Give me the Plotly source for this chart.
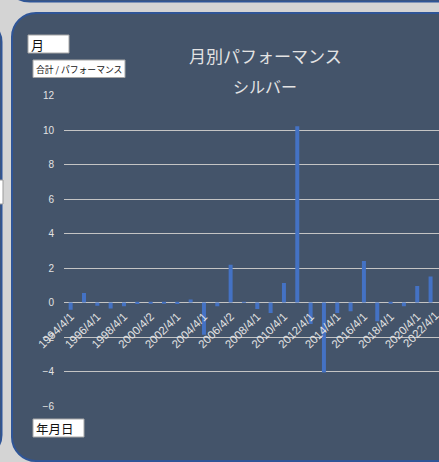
import plotly.graph_objects as go

W, H = 439, 462

# ---- data ----
dates = ["1994/4/1", "1995/4/1", "1996/4/1", "1997/4/1", "1998/4/1", "1999/4/1",
         "2000/4/2", "2001/4/1", "2002/4/1", "2003/4/1", "2004/4/1", "2005/4/1",
         "2006/4/2", "2007/4/1", "2008/4/1", "2009/4/1", "2010/4/1", "2011/4/1",
         "2012/4/1", "2013/4/1", "2014/4/1", "2015/4/1", "2016/4/1", "2017/4/1",
         "2018/4/1", "2019/4/1", "2020/4/1", "2021/4/1", "2022/4/1"]
performance = [-0.41, 0.55, -0.18, -0.35, -0.22, -0.08,
               -0.05, -0.01, -0.08, 0.18, -1.86, -0.22,
               2.20, 0.01, -0.38, -0.61, 1.14, 10.23,
               -1.25, -4.05, -0.61, -0.51, 2.41, -1.08,
               -0.06, -0.22, 0.96, 1.51, None]
tick_labels = dates[::2]
y_ticks = [-6, -4, -2, 0, 2, 4, 6, 8, 10, 12]

title_main = "月別パフォーマンス"
title_sub = "シルバー"
field_top = "月"
field_value = "合計 / パフォーマンス"
field_axis = "年月日"

# ---- layout geometry (pixels) ----
plot_left, plot_right = 64, 439
plot_top, plot_bottom = 95.7, 406
cat_px = 13.33
y_min, y_max = -6, 12

def X(px):
    return px / W

def Y(py):
    return 1 - py / H

x_range = [-0.5, -0.5 + (plot_right - plot_left) / cat_px]
ydom = [Y(plot_bottom), Y(plot_top)]
zero_pos = ydom[0] + (0 - y_min) / (y_max - y_min) * (ydom[1] - ydom[0])

CARD = "#44546a"
BORDER = "#2f5597"
BG = "#d4d4d4"
TXT = "#e3e3e3"
GRID = "#c4c4c4"

def rrect(x0, y0, x1, y1, r):
    k = 0.45
    return (f"M {X(x0+r)},{Y(y0)} L {X(x1-r)},{Y(y0)} "
            f"C {X(x1-r*k)},{Y(y0)} {X(x1)},{Y(y0+r*k)} {X(x1)},{Y(y0+r)} "
            f"L {X(x1)},{Y(y1-r)} "
            f"C {X(x1)},{Y(y1-r*k)} {X(x1-r*k)},{Y(y1)} {X(x1-r)},{Y(y1)} "
            f"L {X(x0+r)},{Y(y1)} "
            f"C {X(x0+r*k)},{Y(y1)} {X(x0)},{Y(y1-r*k)} {X(x0)},{Y(y1-r)} "
            f"L {X(x0)},{Y(y0+r)} "
            f"C {X(x0)},{Y(y0+r*k)} {X(x0+r*k)},{Y(y0)} {X(x0+r)},{Y(y0)} Z")

fig = go.Figure()
fig.add_trace(go.Bar(x=dates, y=performance, marker=dict(color="#4472c4", line=dict(width=0)),
                     hoverinfo="x+y"))

shapes = [
    dict(type="path", path=rrect(2, -120, 700, 1.5, 28), xref="paper", yref="paper",
         fillcolor=CARD, line=dict(color=BORDER, width=2), layer="below"),
    dict(type="path", path=rrect(-200, 20, 1.5, 457, 22), xref="paper", yref="paper",
         fillcolor=CARD, line=dict(color=BORDER, width=2), layer="below"),
    dict(type="path", path=rrect(12, 13, 700, 461, 24), xref="paper", yref="paper",
         fillcolor=CARD, line=dict(color=BORDER, width=2), layer="below"),
    dict(type="rect", x0=X(-10), x1=X(3), y0=Y(180), y1=Y(204), xref="paper", yref="paper",
         fillcolor="white", line=dict(color="#9a9a9a", width=1), layer="below"),
    dict(type="rect", x0=X(28), x1=X(69), y0=Y(35), y1=Y(53), xref="paper", yref="paper",
         fillcolor="white", line=dict(color="#a6a6a6", width=1), layer="above"),
    dict(type="rect", x0=X(33), x1=X(125), y0=Y(60), y1=Y(77.5), xref="paper", yref="paper",
         fillcolor="white", line=dict(color="#a6a6a6", width=1), layer="above"),
    dict(type="rect", x0=X(33), x1=X(84), y0=Y(419), y1=Y(437), xref="paper", yref="paper",
         fillcolor="white", line=dict(color="#a6a6a6", width=1), layer="above"),
]

jp = "Noto Sans CJK JP"
last_idx = len(dates) - 1
annotations = [
    dict(text=title_main, x=X(265), y=Y(55), xref="paper", yref="paper", showarrow=False,
         xanchor="center", yanchor="middle", font=dict(family=jp, size=17, color=TXT)),
    dict(text=title_sub, x=X(265), y=Y(86), xref="paper", yref="paper", showarrow=False,
         xanchor="center", yanchor="middle", font=dict(family=jp, size=16, color=TXT)),
    dict(text=field_top, x=X(28.5), y=Y(44), xref="paper", yref="paper", showarrow=False,
         xanchor="left", yanchor="middle", font=dict(family=jp, size=13, color="#111111")),
    dict(text=field_value, x=X(33.5), y=Y(69), xref="paper", yref="paper", showarrow=False,
         xanchor="left", yanchor="middle", font=dict(family=jp, size=8.8, color="#111111")),
    dict(text=field_axis, x=X(33.5), y=Y(428), xref="paper", yref="paper", showarrow=False,
         xanchor="left", yanchor="middle", font=dict(family=jp, size=12.5, color="#111111")),
    # partially visible label of the category just past the right edge
    dict(text=dates[last_idx], x=X(plot_left + (last_idx + 0.5) * cat_px), xref="paper",
         y=zero_pos, yref="paper", showarrow=False,
         textangle=-45, xanchor="right", yanchor="top", yshift=-3,
         font=dict(family="Liberation Sans", size=11.5, color=TXT)),
]

fig.update_layout(
    width=W, height=H,
    margin=dict(l=0, r=0, t=0, b=0, pad=0),
    paper_bgcolor=BG,
    plot_bgcolor="rgba(0,0,0,0)",
    showlegend=False,
    bargap=0.70,
    shapes=shapes,
    annotations=annotations,
    xaxis=dict(
        domain=[X(plot_left), X(plot_right)],
        range=x_range,
        anchor="free", position=zero_pos,
        type="category",
        tickmode="array", tickvals=tick_labels, ticktext=tick_labels,
        tickangle=-45,
        showgrid=False, showline=False, zeroline=False,
        ticks="", ticklen=0,
        ticklabelstandoff=4,
        tickfont=dict(family="Liberation Sans", size=11.5, color=TXT),
        automargin=False,
    ),
    yaxis=dict(
        domain=ydom,
        range=[y_min, y_max],
        tickmode="array", tickvals=y_ticks,
        showgrid=True, gridcolor=GRID, gridwidth=1.2,
        zeroline=True, zerolinecolor=GRID, zerolinewidth=1.2,
        showline=False,
        ticks="", ticklabelstandoff=9,
        tickfont=dict(family="Liberation Sans", size=10, color=TXT),
        automargin=False,
    ),
)

fig.write_html("out.html", config={"displayModeBar": False},
               post_script="document.body.style.margin='0';document.body.style.overflow='hidden';")
